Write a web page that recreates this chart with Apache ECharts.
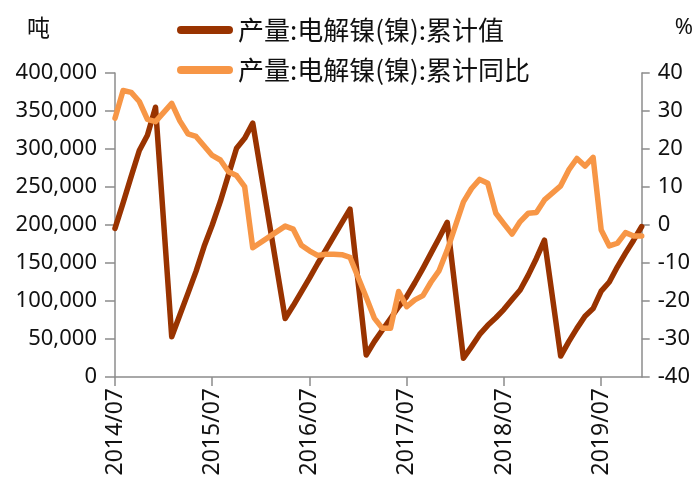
<!DOCTYPE html>
<html>
<head>
<meta charset="utf-8">
<script src="https://cdn.jsdelivr.net/npm/echarts@6/dist/echarts.min.js"></script>
<style>
  html, body { margin: 0; padding: 0; background: #fff; }
  #main { width: 696px; height: 484px; }
</style>
</head>
<body>
<div id="main"></div>
<script>
// monthly, 2014/07 .. 2019/12 (January values missing in the source)
const months = [
  '2014/07','2014/08','2014/09','2014/10','2014/11','2014/12',
  '2015/01','2015/02','2015/03','2015/04','2015/05','2015/06','2015/07','2015/08','2015/09','2015/10','2015/11','2015/12',
  '2016/01','2016/02','2016/03','2016/04','2016/05','2016/06','2016/07','2016/08','2016/09','2016/10','2016/11','2016/12',
  '2017/01','2017/02','2017/03','2017/04','2017/05','2017/06','2017/07','2017/08','2017/09','2017/10','2017/11','2017/12',
  '2018/01','2018/02','2018/03','2018/04','2018/05','2018/06','2018/07','2018/08','2018/09','2018/10','2018/11','2018/12',
  '2019/01','2019/02','2019/03','2019/04','2019/05','2019/06','2019/07','2019/08','2019/09','2019/10','2019/11','2019/12'
];

// 产量:电解镍(镍):累计值 (吨)
const cumOutput = [
  195600, 229000, 264000, 298000, 318000, 355000,
  null, 53000, 81600, 110000, 139000, 172000, 200000, 231000, 266000, 301000, 314000, 334000,
  null, null, null, 77000, 94000, 112000, 130000, 149000, 167000, 185000, 203000, 221000,
  null, 29000, 46500, 61800, 77000, 92500, 106000, 124000, 143000, 163000, 183000, 203500,
  null, 24600, 40000, 56000, 68000, 78000, 89000, 102000, 114500, 134000, 156000, 180000,
  null, 27600, 46500, 64000, 80000, 90000, 113000, 125000, 145000, 163000, 180000, 198000
];

// 产量:电解镍(镍):累计同比 (%)
const cumYoY = [
  28.1, 35.4, 34.9, 32.5, 27.8, 27.2,
  null, 32.0, 27.4, 24.0, 23.3, 20.8, 18.3, 17.1, 14.0, 13.0, 10.1, -6.0,
  null, null, null, -0.3, -1.1, -5.3, -6.8, -8.0, -7.7, -7.7, -7.8, -8.5,
  null, -19.0, -24.5, -27.2, -27.2, -17.5, -21.5, -19.7, -18.6, -15.0, -12.0, -6.6,
  null, 6.1, 9.6, 12.0, 11.0, 3.1, 0.3, -2.4, 0.9, 3.1, 3.3, 6.6,
  null, 10.3, 14.5, 17.5, 15.5, 17.8, -1.3, -5.5, -4.8, -2.0, -2.9, -2.9
];

const nameOutput = '产量:电解镍(镍):累计值';
const nameYoY = '产量:电解镍(镍):累计同比';

const darkColor = '#993300';
const lightColor = '#F79646';
const axisColor = '#8c8c8c';
const textColor = '#111';
const numFont = '"Noto Sans", sans-serif';
const cjkFont = '"Noto Sans CJK SC", sans-serif';

let chart = echarts.init(document.getElementById('main'));

let option = {
  backgroundColor: '#fff',
  animation: false,
  grid: { left: 115, right: 54, top: 73, bottom: 107, containLabel: false },
  legend: {
    orient: 'vertical',
    left: 172,
    top: 11,
    itemWidth: 56,
    itemHeight: 8,
    itemGap: 12,
    icon: 'path://M4,0 L52,0 A4,4 0 0 1 52,8 L4,8 A4,4 0 0 1 4,0 Z',
    textStyle: { fontFamily: cjkFont, fontSize: 26, color: textColor, lineHeight: 28 },
    data: [nameOutput, nameYoY]
  },
  xAxis: {
    type: 'category',
    data: months,
    boundaryGap: false,
    axisLine: { lineStyle: { color: axisColor, width: 1.5 } },
    axisTick: { show: true, interval: 11, length: 9, lineStyle: { color: axisColor, width: 1.5 } },
    axisLabel: {
      interval: 11,
      rotate: 90,
      margin: 11,
      fontFamily: numFont,
      fontSize: 23,
      color: textColor
    },
    splitLine: { show: false }
  },
  yAxis: [
    {
      type: 'value',
      min: 0,
      max: 400000,
      interval: 50000,
      name: '吨',
      nameLocation: 'end',
      nameGap: 34,
      nameTextStyle: { fontFamily: cjkFont, fontSize: 23, color: textColor, align: 'right', padding: [0, 65, 0, 0] },
      axisLine: { show: true, lineStyle: { color: axisColor, width: 1.5 } },
      axisTick: { show: true, length: 10, lineStyle: { color: axisColor, width: 1.5 } },
      axisLabel: {
        margin: 18,
        fontFamily: numFont,
        fontSize: 22,
        color: textColor,
        formatter: v => v.toLocaleString('en-US')
      },
      splitLine: { show: false }
    },
    {
      type: 'value',
      min: -40,
      max: 40,
      interval: 10,
      name: '%',
      nameLocation: 'end',
      nameGap: 34,
      nameTextStyle: { fontFamily: numFont, fontSize: 22, color: textColor, align: 'left', padding: [0, 0, 0, 33] },
      axisLine: { show: true, lineStyle: { color: axisColor, width: 1.5 } },
      axisTick: { show: true, length: 8, lineStyle: { color: axisColor, width: 1.5 } },
      axisLabel: { margin: 16, fontFamily: numFont, fontSize: 22, color: textColor },
      splitLine: { show: false }
    }
  ],
  series: [
    {
      name: nameOutput,
      type: 'line',
      yAxisIndex: 0,
      data: cumOutput,
      connectNulls: true,
      symbol: 'none',
      color: darkColor,
      lineStyle: { width: 5.5, color: darkColor, cap: 'round', join: 'round' }
    },
    {
      name: nameYoY,
      type: 'line',
      yAxisIndex: 1,
      data: cumYoY,
      connectNulls: true,
      symbol: 'none',
      color: lightColor,
      lineStyle: { width: 5.5, color: lightColor, cap: 'round', join: 'round' }
    }
  ]
};

chart.setOption(option);
</script>
</body>
</html>
